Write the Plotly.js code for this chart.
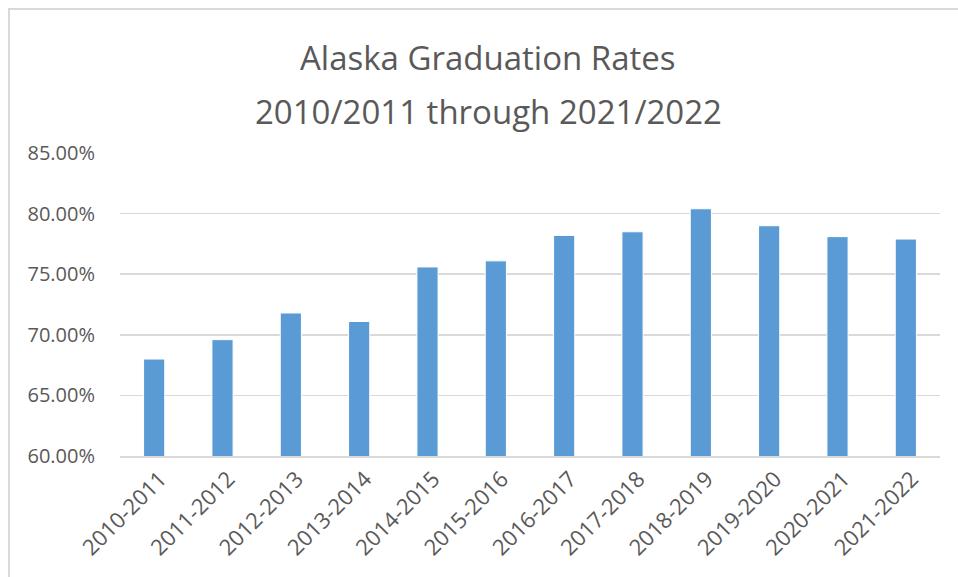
<!DOCTYPE html>
<html>
<head>
<meta charset="utf-8">
<script src="https://cdn.plot.ly/plotly-3.0.1.min.js"></script>
<style>
  html, body { margin: 0; padding: 0; background: #ffffff; }
  #chart { width: 958px; height: 577px; position: absolute; left: 0; top: 0; }
  #frame { position: absolute; left: 8px; top: 8px; width: 960px; height: 580px;
           border-left: 2px solid #d9d9d9; border-top: 2px solid #d9d9d9; pointer-events: none; }
</style>
</head>
<body>
<div id="chart"></div>
<div id="frame"></div>
<script>
const categories = ["2010-2011", "2011-2012", "2012-2013", "2013-2014", "2014-2015", "2015-2016",
                    "2016-2017", "2017-2018", "2018-2019", "2019-2020", "2020-2021", "2021-2022"];
const gradRates = [0.680, 0.696, 0.718, 0.711, 0.756, 0.761, 0.782, 0.785, 0.804, 0.790, 0.781, 0.779];
const titleLine1 = "Alaska Graduation Rates";
const titleLine2 = "2010/2011 through 2021/2022";

const fontFamily = "'Open Sans', 'Liberation Sans', Arial, sans-serif";

const trace = {
  type: "bar",
  x: categories,
  y: gradRates,
  marker: { color: "#5b9bd5", line: { color: "#ffffff", width: 1 } },
  hoverinfo: "x+y"
};

const layout = {
  width: 958,
  height: 577,
  margin: { l: 120, r: 18, t: 153, b: 121 },
  paper_bgcolor: "#ffffff",
  plot_bgcolor: "#ffffff",
  bargap: 0.69,
  showlegend: false,
  font: { family: fontFamily, color: "#595959" },
  xaxis: {
    type: "category",
    tickangle: -45,
    tickfont: { size: 22, color: "#595959", family: fontFamily },
    ticks: "",
    ticklabelshift: 6,
    showgrid: false,
    showline: true,
    linecolor: "#d9d9d9",
    linewidth: 1.5,
    zeroline: false
  },
  yaxis: {
    range: [0.60, 0.85],
    dtick: 0.05,
    tick0: 0.60,
    tickformat: ".2%",
    tickfont: { size: 20, color: "#595959", family: fontFamily },
    ticks: "outside",
    ticklen: 20,
    tickcolor: "rgba(0,0,0,0)",
    showgrid: true,
    gridcolor: "#d9d9d9",
    gridwidth: 1.5,
    showline: false,
    zeroline: false
  },
  annotations: [
    { text: titleLine1, xref: "paper", yref: "paper", x: 0.449, y: 1.314,
      xanchor: "center", yanchor: "middle", showarrow: false,
      font: { size: 33, color: "#595959", family: fontFamily } },
    { text: titleLine2, xref: "paper", yref: "paper", x: 0.449, y: 1.137,
      xanchor: "center", yanchor: "middle", showarrow: false,
      font: { size: 33, color: "#595959", family: fontFamily } }
  ]
};

Plotly.newPlot("chart", [trace], layout, { displayModeBar: false, staticPlot: true });
</script>
</body>
</html>
